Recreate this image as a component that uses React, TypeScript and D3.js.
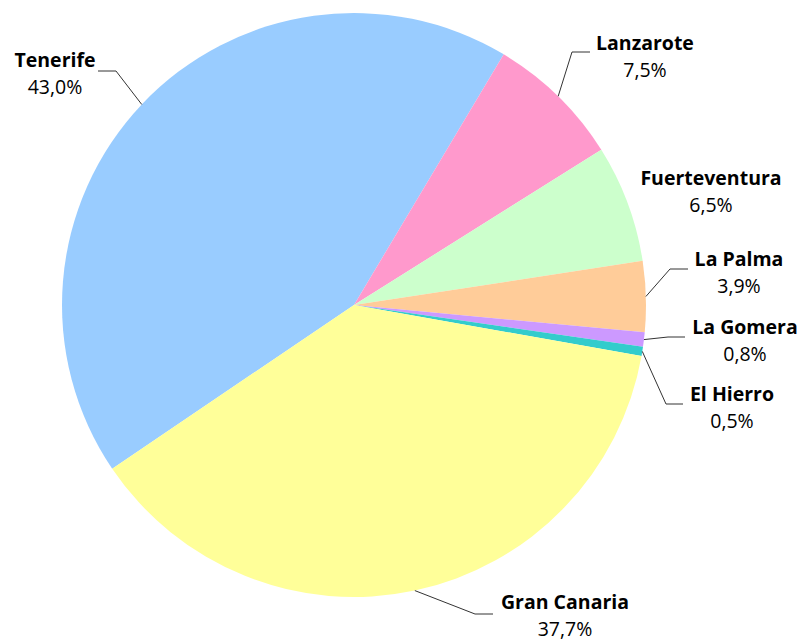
import React from "react";
import * as d3 from "d3";

const islands = ["Tenerife", "Lanzarote", "Fuerteventura", "La Palma", "La Gomera", "El Hierro", "Gran Canaria"];
const shares = [43.0, 7.5, 6.5, 3.9, 0.8, 0.5, 37.7];
const colors = ["#99CCFF", "#FF99CC", "#CCFFCC", "#FFCC99", "#CC99FF", "#33CCCC", "#FFFF99"];

// label layout: center x, name baseline y, elbow point (or null), line end x
const labelX = [55, 645, 711, 739, 745, 732, 565];
const labelY = [67, 50, 185, 266, 334, 401, 609];
const elbowX = [116, 572, null, 670, 668, 666, 475];
const elbowY = [71, 52, null, 269, 337, 404, 614];
const lineEndX = [98, 590, null, 688, 685, 683, 493];

const W = 803, H = 641;
const cx = 354, cy = 305, R = 292;

export default function App() {
  const startDeg = -124.1;
  const pie = d3.pie<number>().sort(null).value((d) => d)
    .startAngle((startDeg * Math.PI) / 180)
    .endAngle((startDeg * Math.PI) / 180 + 2 * Math.PI);
  const arcs = pie(shares);
  const arc = d3.arc<d3.PieArcDatum<number>>().innerRadius(0).outerRadius(R);
  const fmt = (v: number) => v.toFixed(1).replace(".", ",") + "%";

  return (
    <svg width={W} height={H} style={{ position: "absolute", left: 0, top: 0 }}
      fontFamily="'Open Sans', 'Noto Sans', sans-serif">
      <rect width={W} height={H} fill="#fff" />
      <g transform={`translate(${cx},${cy})`}>
        {arcs.map((a, i) => (
          <path key={i} d={arc(a) || ""} fill={colors[i]} />
        ))}
      </g>
      {arcs.map((a, i) => {
        if (elbowX[i] == null) return null;
        const mid = (a.startAngle + a.endAngle) / 2;
        const sx = cx + R * Math.sin(mid);
        const sy = cy - R * Math.cos(mid);
        return (
          <polyline key={"l" + i}
            points={`${sx},${sy} ${elbowX[i]},${elbowY[i]} ${lineEndX[i]},${elbowY[i]}`}
            fill="none" stroke="#333" strokeWidth={1} />
        );
      })}
      {islands.map((name, i) => (
        <g key={"t" + i}>
          <text x={labelX[i]} y={labelY[i]} textAnchor="middle" fontWeight="bold" fontSize={19.5} fill="#000">{name}</text>
          <text x={labelX[i]} y={labelY[i] + 27} textAnchor="middle" fontSize={19.5} fill="#000">{fmt(shares[i])}</text>
        </g>
      ))}
    </svg>
  );
}
